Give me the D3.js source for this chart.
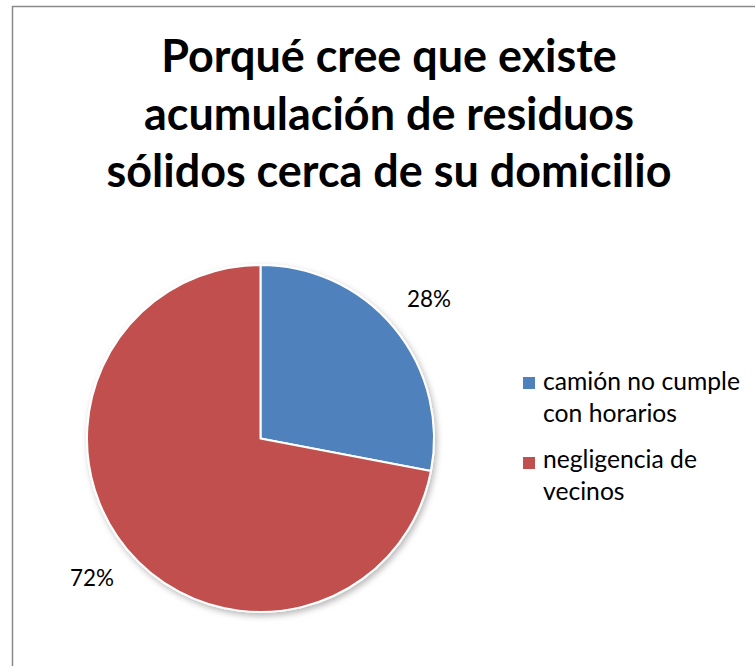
<!DOCTYPE html>
<html><head><meta charset="utf-8">
<script src="https://cdn.jsdelivr.net/npm/d3@7"></script>
<style>html,body{margin:0;padding:0;background:#fff;}svg{display:block;}</style>
</head><body>
<svg id="c" width="755" height="666"></svg>
<script>
const titleLines = ["Porqué cree que existe", "acumulación de residuos", "sólidos cerca de su domicilio"];
const categories = ["camión no cumple con horarios", "negligencia de vecinos"];
const legendLines = [["camión no cumple", "con horarios"], ["negligencia de", "vecinos"]];
const values = [28, 72];
const labels = ["28%", "72%"];
const colors = ["#4F81BD", "#C0504D"];

const svg = d3.select("#c");
const font = "Lato, 'Open Sans', sans-serif";

// chart area border (right/bottom extend past the window)
svg.append("rect").attr("x", 12.5).attr("y", 6.5).attr("width", 800).attr("height", 700)
  .attr("fill", "#fff").attr("stroke", "#8a8a8a").attr("stroke-width", 1.5);

// title
const titleG = svg.append("g");
const tBase = [72, 130, 187];
const tt = titleG.selectAll("text").data(titleLines).join("text")
  .attr("x", 389).attr("y", (d, i) => tBase[i])
  .attr("text-anchor", "middle").attr("font-family", font).attr("font-weight", 700)
  .attr("font-size", 40).attr("fill", "#000").text(d => d);
const w2 = tt.nodes()[1].getComputedTextLength();
tt.attr("font-size", 40 * 490 / w2);

// pie
const cx = 260.5, cy = 438.5, r = 173.5;
const defs = svg.append("defs");
const f = defs.append("filter").attr("id", "sh").attr("x", "-20%").attr("y", "-20%").attr("width", "140%").attr("height", "140%");
f.append("feDropShadow").attr("dx", 2).attr("dy", 3).attr("stdDeviation", 3).attr("flood-color", "#000").attr("flood-opacity", 0.28);

const pie = d3.pie().sort(null).value(d => d)(values);
const arc = d3.arc().innerRadius(0).outerRadius(r);
const g = svg.append("g").attr("transform", `translate(${cx},${cy})`);
g.append("g").attr("filter", "url(#sh)").selectAll("path").data(pie).join("path")
  .attr("d", arc).attr("fill", (d, i) => colors[i])
  .attr("stroke", "#fff").attr("stroke-width", 2).attr("stroke-linejoin", "round");

const lblArc = d3.arc().innerRadius(r * 1.26).outerRadius(r * 1.26);
const lt = g.selectAll("text.lbl").data(pie).join("text").attr("class", "lbl")
  .attr("x", d => lblArc.centroid(d)[0]).attr("y", d => lblArc.centroid(d)[1])
  .attr("dy", "0.35em").attr("text-anchor", "middle")
  .attr("font-family", font).attr("font-size", 22).attr("fill", "#000")
  .text((d, i) => labels[i]);
const lw = lt.nodes()[0].getComputedTextLength();
lt.attr("font-size", 22 * 44 / lw);

// legend
const lg = svg.append("g");
const sqY = [377, 457];
const baseY = [390, 468];
categories.forEach((c, i) => {
  lg.append("rect").attr("x", 523).attr("y", sqY[i]).attr("width", 12).attr("height", 12).attr("fill", colors[i]);
  legendLines[i].forEach((ln, j) => {
    lg.append("text").attr("class", "lgt").attr("x", 543).attr("y", baseY[i] + j * 32)
      .attr("font-family", font).attr("font-size", 22).attr("fill", "#000").text(ln);
  });
});
const lgt = lg.selectAll("text.lgt");
const w0 = lgt.nodes()[0].getComputedTextLength();
lgt.attr("font-size", 22 * 197 / w0);
</script>
</body></html>
